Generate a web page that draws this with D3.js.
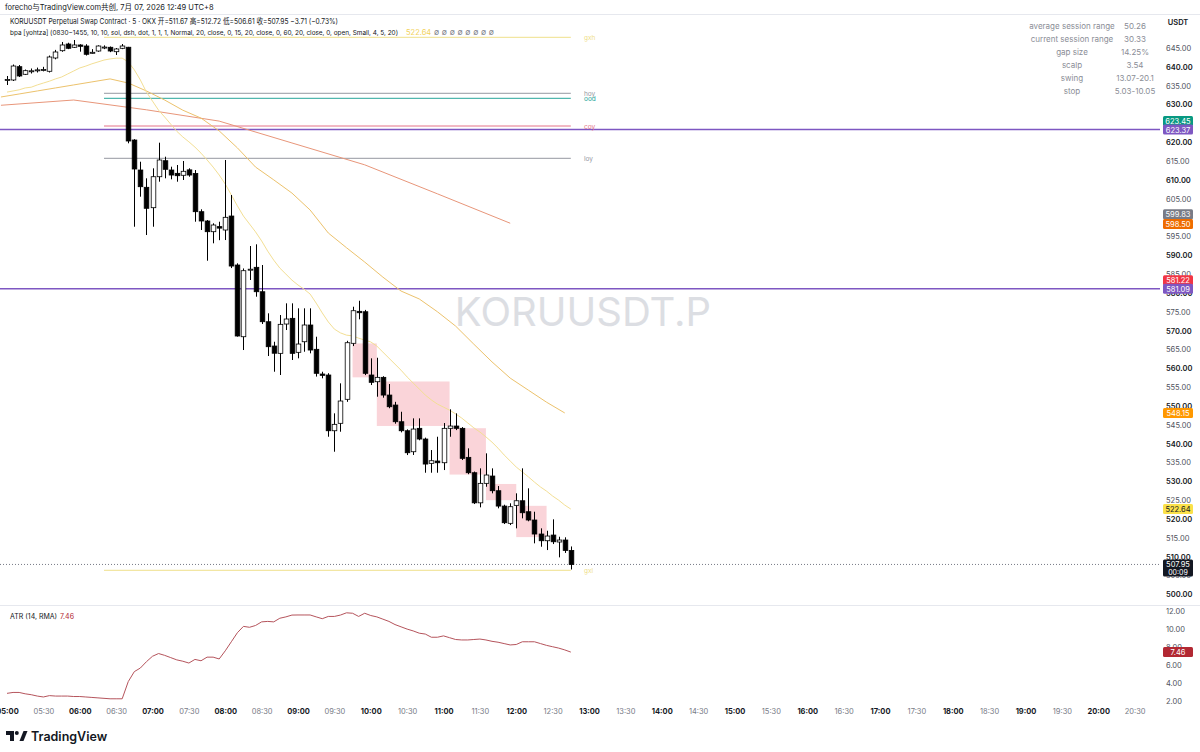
<!DOCTYPE html>
<html>
<head>
<meta charset="utf-8">
<script src="https://cdn.jsdelivr.net/npm/d3@7"></script>
<style>
  body { margin: 0; background: #fff; }
  svg text { font-family: "Inter", "Noto Sans CJK SC", sans-serif; }
</style>
</head>
<body>
<div id="chart"></div>
<script>
// ---- data (5 min bars from 05:00) ----
const openP = [636.38,636.51,640.04,638.02,638.85,639.10,639.20,638.82,642.35,644.28,
  646.06,645.19,645.80,645.53,643.59,644.20,645.15,645.19,644.02,644.92,
  645.20,620.58,612.62,608.03,602.62,610.84,615.09,612.62,611.74,611.22,
  612.66,611.70,601.56,599.09,596.25,597.60,596.70,600.41,587.41,568.38,
  586.10,586.80,580.32,572.36,565.91,563.97,571.75,573.26,564.24,567.05,
  571.49,565.04,558.48,558.22,543.43,545.40,551.77,566.63,575.12,575.01,
  558.22,556.44,557.60,552.90,550.25,545.82,543.43,537.86,544.07,541.23,
  534.78,535.39,534.94,544.07,544.68,544.07,536.37,532.29,524.30,529.47,
  531.41,527.51,523.44,518.86,523.63,524.85,521.94,519.74,516.02,514.24,
  515.75,513.90,514.43,511.67]
const highP = [637.57,640.62,640.49,639.29,639.56,639.80,640.00,643.00,644.50,646.60,
  646.40,647.12,646.00,646.00,644.70,645.70,645.70,645.40,645.00,646.06,
  645.30,620.80,614.82,610.42,613.07,619.87,616.15,613.50,613.95,615.01,
  613.07,612.62,602.20,599.35,598.48,598.90,615.28,605.99,587.86,586.50,
  592.45,592.90,587.41,574.59,567.05,574.14,577.24,577.24,575.92,575.92,
  575.92,568.38,559.09,558.70,548.05,556.01,567.30,576.34,577.93,575.50,
  562.65,562.80,557.90,555.83,551.10,548.47,543.80,546.72,546.72,541.60,
  538.31,541.84,545.48,549.11,548.05,544.40,538.76,532.60,533.45,537.43,
  533.45,528.76,523.80,524.17,526.82,533.45,528.15,521.94,517.53,516.89,
  519.92,515.30,515.15,512.72]
const lowP = [635.18,636.24,637.30,637.83,638.23,638.50,638.80,638.50,642.00,644.00,
  644.70,645.00,644.02,643.00,643.50,644.00,644.70,643.90,643.14,644.70,
  619.71,597.57,605.54,595.37,597.57,609.52,610.42,610.15,609.52,609.97,
  610.84,598.90,596.70,588.55,593.17,594.00,594.04,586.60,568.40,564.85,
  583.43,579.00,571.75,563.26,559.09,558.22,570.16,562.20,562.65,564.40,
  563.97,557.80,557.34,541.84,537.86,543.17,551.10,565.90,573.00,558.20,
  555.56,552.46,552.20,549.40,545.30,543.00,536.98,537.00,540.90,532.29,
  532.29,532.29,533.00,541.84,543.60,535.66,531.90,523.98,523.10,528.57,
  526.82,522.84,518.67,518.40,517.53,520.18,519.40,513.55,512.65,511.77,
  513.36,509.83,511.00,506.61]
const closeP = [636.64,640.22,637.57,638.98,638.95,639.20,639.30,642.61,643.94,645.80,
  644.92,645.80,645.45,643.33,643.86,645.53,645.25,644.20,644.74,645.53,
  620.32,612.89,608.19,602.46,610.84,615.28,612.81,611.29,611.11,612.28,
  611.29,601.56,599.09,596.25,598.03,597.20,600.07,587.14,568.57,585.90,
  586.30,580.32,572.36,565.73,564.00,571.67,573.08,563.97,566.44,571.49,
  564.85,558.67,558.13,543.43,545.13,551.32,566.79,575.28,574.75,558.67,
  556.28,557.60,552.90,549.80,545.82,543.43,537.59,543.88,541.23,534.59,
  535.47,534.94,544.07,544.68,544.07,536.11,532.29,524.30,529.47,531.68,
  527.51,523.44,519.02,523.27,524.85,521.67,519.74,516.02,514.24,515.49,
  513.97,514.43,511.67,507.95]

// 20 MA on 5m (one value per bar)
const maFast = [633.3,633.6,633.9,634.4,634.6,635.2,635.7,636.2,636.8,637.3,
  638.1,638.9,639.7,640.2,640.8,641.3,641.8,642.1,642.3,642.3,
  641.3,639.2,636.5,633.3,630.9,628.5,626.7,624.8,622.9,621.4,
  620.1,618.7,617.1,615.3,613.4,611.3,608.9,606.0,603.1,600.4,
  598.3,596.2,593.8,591.1,588.7,586.6,585.0,583.4,582.1,581.0,
  579.7,577.3,574.7,572.3,570.4,569.4,568.8,568.6,568.0,567.5,
  567.0,565.9,564.3,562.7,561.1,559.5,557.7,556.1,554.5,552.9,
  551.6,550.5,549.7,548.9,547.9,546.8,545.5,544.2,543.1,541.8,
  540.4,538.8,537.0,535.4,533.8,532.5,531.2,529.8,528.5,527.4,
  526.1,525.0,523.7,522.64]
// 20 MA on 15m (one value per 15 min, last bar of each block)
const maMid = [632.0,632.8,633.6,634.4,635.2,636.0,636.8,635.7,633.6,631.2,
  628.5,626.4,623.0,618.5,613.4,610.0,606.5,602.0,595.9,592.0,
  588.2,584.2,580.5,578.4,575.0,571.2,566.4,561.7,557.4,554.2,
  551.0,548.15]
// 20 MA on 60m (one value per hour)
const maSlow = [629.8,631.2,628.6,625.6,619.8,614.0,606.3,598.5]

const atr = [2.9,3.0,3.0,2.85,2.75,2.6,2.5,2.65,2.6,2.6,
  2.6,2.55,2.55,2.5,2.45,2.4,2.35,2.3,2.3,2.3,
  4.2,5.3,5.7,6.4,7.0,7.3,7.1,6.85,6.6,6.45,
  6.25,6.65,6.5,6.9,6.9,6.7,7.6,8.6,9.6,10.3,
  10.2,10.4,10.8,10.85,10.8,11.2,11.35,11.55,11.56,11.56,
  11.56,11.35,11.15,11.4,11.4,11.55,11.8,11.75,11.4,11.75,
  11.5,11.35,11.1,10.85,10.5,10.25,10.0,9.8,9.55,9.45,
  9.1,9.1,9.25,9.05,8.85,8.8,8.8,8.85,8.9,8.8,
  8.65,8.55,8.4,8.25,8.3,8.6,8.6,8.6,8.4,8.2,
  8.05,7.9,7.7,7.46]

// supply boxes (bar index start / end, price top / bottom)
const boxStart = [57, 61, 73, 79, 84]
const boxEnd = [61, 73, 79, 84, 89]
const boxTop = [566.6, 556.5, 544.1, 529.3, 523.5]
const boxBottom = [557.6, 544.7, 531.8, 525.0, 515.2]

// session levels
const levelNames = ["gxh", "hoy", "ood", "coy", "loy", "gxl"]
const levelPrices = [647.84, 632.98, 631.65, 624.3, 615.73, 506.4]
const levelColors = ["#efe08a", "#9598a1", "#26a69a", "#e57388", "#9598a1", "#efe08a"]
const levelFrom = "06:20", levelTo = "12:45"

const fullLines = [623.37, 581.09]

// price tags on the axis (value shown, price where the tag sits)
const axisLabelValues = ["623.45", "623.37", "599.83", "598.50", "581.22", "581.09", "548.15", "522.64"]
const axisLabelPrices = [625.6, 623.37, 600.9, 598.3, 583.4, 581.09, 548.15, 522.64]
const axisLabelColors = ["#089981", "#7e57c2", "#787b86", "#ef6c00", "#f23645", "#7e57c2", "#ff9800", "#fbe14a"]

const priceTicks = [500,505,510,515,520,525,530,535,540,545,550,555,560,565,570,575,580,585,
  590,595,600,605,610,615,620,625,630,635,640,645]
const atrTicks = [2, 4, 6, 8, 10, 12]
const timeLabels = ["05:00","05:30","06:00","06:30","07:00","07:30","08:00","08:30","09:00","09:30",
  "10:00","10:30","11:00","11:30","12:00","12:30","13:00","13:30","14:00","14:30","15:00","15:30",
  "16:00","16:30","17:00","17:30","18:00","18:30","19:00","19:30","20:00","20:30"]

const tableNames = ["average session range", "current session range", "gap size", "scalp", "swing", "stop"]
const tableValues = ["50.26", "30.33", "14.25%", "3.54", "13.07-20.1", "5.03-10.05"]

// ---- setup ----
const W = 1200, H = 752
const svg = d3.select("#chart").append("svg").attr("width", W).attr("height", H)

const parseT = d3.timeParse("%Y-%m-%d %H:%M")
const day = "2026-07-07 "
const t0 = parseT(day + "05:00")
const barTime = i => new Date(t0.getTime() + i * 300000)

const x = d3.scaleTime().domain([parseT(day + "05:00"), parseT(day + "13:00")]).range([7, 589])
const y = d3.scaleLinear().domain([500, 645]).range([594.4, 48])
const yA = d3.scaleLinear().domain([2, 12]).range([701.5, 611])

const plotRight = 1160

svg.append("defs").append("clipPath").attr("id", "clipMain")
  .append("rect").attr("x", 0).attr("y", 15).attr("width", plotRight).attr("height", 589)

// header
svg.append("text").attr("x", 5).attr("y", 10).attr("font-size", 7.5).attr("fill", "#131722")
  .text("forecho与TradingView.com共创, 7月 07, 2026 12:49 UTC+8")
svg.append("line").attr("x1", 0).attr("x2", W).attr("y1", 14.5).attr("y2", 14.5)
  .attr("stroke", "#e6e8ee")

// pane separator
svg.append("line").attr("x1", 0).attr("x2", W).attr("y1", 605.5).attr("y2", 605.5).attr("stroke", "#e6e8ee")

// watermark
svg.append("text").attr("x", 583).attr("y", 326).attr("text-anchor", "middle")
  .attr("font-size", 40).attr("fill", "#dcdee3").text("KORUUSDT.P")

const main = svg.append("g").attr("clip-path", "url(#clipMain)")

// boxes
main.selectAll("rect.box").data(boxStart).enter().append("rect")
  .attr("class", "box")
  .attr("x", d => x(barTime(d)))
  .attr("width", (d, i) => x(barTime(boxEnd[i])) - x(barTime(d)))
  .attr("y", (d, i) => y(boxTop[i]))
  .attr("height", (d, i) => y(boxBottom[i]) - y(boxTop[i]))
  .attr("fill", "rgba(236,100,120,0.28)")

// full width levels
fullLines.forEach(p => {
  main.append("line").attr("x1", 0).attr("x2", plotRight).attr("y1", y(p)).attr("y2", y(p))
    .attr("stroke", "#7e57c2").attr("stroke-width", 1.5)
})

// session levels
const lvFrom = x(parseT(day + levelFrom)), lvTo = x(parseT(day + levelTo))
levelPrices.forEach((p, i) => {
  main.append("line").attr("x1", lvFrom).attr("x2", lvTo).attr("y1", y(p)).attr("y2", y(p))
    .attr("stroke", levelColors[i]).attr("stroke-width", 1)
  main.append("text").attr("x", 584).attr("y", y(p) + 2.5).attr("font-size", 6.5)
    .attr("fill", levelColors[i]).text(levelNames[i])
})

// current price dotted line
main.append("line").attr("x1", 0).attr("x2", plotRight)
  .attr("y1", y(507.95)).attr("y2", y(507.95))
  .attr("stroke", "#787b86").attr("stroke-dasharray", "1,2")

// moving averages
const slowIdx = d3.range(-1, 84, 12)
const midIdx = d3.range(-1, 93, 3)
const ln = d3.line().x(d => x(barTime(d[0]))).y(d => y(d[1]))
main.append("path").attr("d", ln(slowIdx.map((b, i) => [b, maSlow[i]])))
  .attr("fill", "none").attr("stroke", "#e8967a").attr("stroke-width", 1)
main.append("path").attr("d", ln(midIdx.map((b, i) => [b, maMid[i]])))
  .attr("fill", "none").attr("stroke", "#ecc26c").attr("stroke-width", 1)
main.append("path").attr("d", ln(maFast.map((v, i) => [i, v])))
  .attr("fill", "none").attr("stroke", "#f3df94").attr("stroke-width", 1)

// candles
const bars = d3.range(openP.length)
const bodyW = 4.6
const candle = main.selectAll("g.candle").data(bars).enter().append("g").attr("class", "candle")
candle.append("line")
  .attr("x1", i => Math.round(x(barTime(i))) + 0.5)
  .attr("x2", i => Math.round(x(barTime(i))) + 0.5)
  .attr("y1", i => y(highP[i])).attr("y2", i => y(lowP[i]))
  .attr("stroke", "#000").attr("stroke-width", 1)
candle.append("rect")
  .attr("x", i => Math.round(x(barTime(i))) + 0.5 - bodyW / 2)
  .attr("width", bodyW)
  .attr("y", i => y(Math.max(openP[i], closeP[i])))
  .attr("height", i => Math.max(1, Math.abs(y(openP[i]) - y(closeP[i]))))
  .attr("fill", i => closeP[i] >= openP[i] ? "#fff" : "#000")
  .attr("stroke", "#000").attr("stroke-width", 0.8)

// price axis
const yAxis = d3.axisRight(y).tickValues(priceTicks).tickFormat(d3.format(".2f"))
  .tickSize(0).tickPadding(0)
const gy = svg.append("g").attr("transform", "translate(1166,0)").call(yAxis)
gy.select(".domain").remove()
gy.selectAll("text").attr("font-size", 7.5)
  .attr("font-weight", d => d % 10 === 0 ? 600 : 400)
  .attr("fill", d => d % 10 === 0 ? "#131722" : "#50535e")

svg.append("text").attr("x", 1178).attr("y", 25).attr("text-anchor", "middle")
  .attr("font-size", 7.5).attr("font-weight", 600).attr("fill", "#131722").text("USDT")

// colored axis tags
function axisTag(val, price, color, txtColor) {
  const g = svg.append("g")
  g.append("rect").attr("x", 1163).attr("y", y(price) - 5).attr("width", 30).attr("height", 10)
    .attr("rx", 1.5).attr("fill", color)
  g.append("text").attr("x", 1178).attr("y", y(price) + 3).attr("text-anchor", "middle")
    .attr("font-size", 7.5).attr("fill", txtColor).text(val)
}
axisLabelValues.forEach((v, i) => {
  axisTag(v, axisLabelPrices[i], axisLabelColors[i], axisLabelColors[i] === "#fbe14a" ? "#131722" : "#fff")
})
// last price with countdown
svg.append("rect").attr("x", 1163).attr("y", y(507.95) - 5).attr("width", 30).attr("height", 17)
  .attr("rx", 1.5).attr("fill", "#131722")
svg.append("text").attr("x", 1178).attr("y", y(507.95) + 3).attr("text-anchor", "middle")
  .attr("font-size", 7.5).attr("fill", "#fff").text("507.95")
svg.append("text").attr("x", 1178).attr("y", y(507.95) + 10.5).attr("text-anchor", "middle")
  .attr("font-size", 7).attr("fill", "#fff").text("00:09")

// legend lines
svg.append("text").attr("x", 10).attr("y", 24).attr("font-size", 7.5).attr("fill", "#131722")
  .attr("textLength", 328).attr("lengthAdjust", "spacingAndGlyphs")
  .text("KORUUSDT Perpetual Swap Contract · 5 · OKX  开=511.67  高=512.72  低=506.61  收=507.95  −3.71 (−0.73%)")
svg.append("text").attr("x", 10).attr("y", 35).attr("font-size", 6.8).attr("fill", "#131722")
  .attr("textLength", 388).attr("lengthAdjust", "spacingAndGlyphs")
  .text("bpa [yohtza] (0830−1455, 10, 10, sol, dsh, dot, 1, 1, 1, Normal, 20, close, 0, 15, 20, close, 0, 60, 20, close, 0, open, Small, 4, 5, 20)")
svg.append("text").attr("x", 406).attr("y", 35).attr("font-size", 7.5).attr("fill", "#f2d25c").text("522.64")
svg.append("text").attr("x", 434).attr("y", 35).attr("font-size", 7.5).attr("fill", "#787b86")
  .attr("textLength", 60).text("∅ ∅ ∅ ∅ ∅ ∅ ∅ ∅")

// stats table
tableNames.forEach((n, i) => {
  svg.append("text").attr("x", 1072).attr("y", 29 + i * 13).attr("text-anchor", "middle")
    .attr("font-size", 8).attr("fill", "#8a8d96").text(n)
  svg.append("text").attr("x", 1135).attr("y", 29 + i * 13).attr("text-anchor", "middle")
    .attr("font-size", 8).attr("fill", "#8a8d96").text(tableValues[i])
})

// ---- ATR pane ----
svg.append("path").attr("d", d3.line().x((d, i) => x(barTime(i))).y(d => yA(d))(atr))
  .attr("fill", "none").attr("stroke", "#b5545c").attr("stroke-width", 1)
svg.append("text").attr("x", 10).attr("y", 619).attr("font-size", 7).attr("fill", "#131722")
  .text("ATR (14, RMA)")
svg.append("text").attr("x", 60).attr("y", 619).attr("font-size", 7).attr("fill", "#b22833").text("7.46")

const aAxis = d3.axisRight(yA).tickValues(atrTicks).tickFormat(d3.format(".2f")).tickSize(0).tickPadding(0)
const ga = svg.append("g").attr("transform", "translate(1166,0)").call(aAxis)
ga.select(".domain").remove()
ga.selectAll("text").attr("font-size", 7.5).attr("fill", "#50535e")
svg.append("rect").attr("x", 1163).attr("y", yA(7.46) - 5).attr("width", 30).attr("height", 10)
  .attr("rx", 1.5).attr("fill", "#b22833")
svg.append("text").attr("x", 1178).attr("y", yA(7.46) + 3).attr("text-anchor", "middle")
  .attr("font-size", 7.5).attr("fill", "#fff").text("7.46")

// time axis
const timeTicks = timeLabels.map(s => parseT(day + s))
const xAxis = d3.axisBottom(x).tickValues(timeTicks).tickFormat(d3.timeFormat("%H:%M"))
  .tickSize(0).tickPadding(0)
const gx = svg.append("g").attr("transform", "translate(0,709)").call(xAxis)
gx.select(".domain").remove()
gx.selectAll("text").attr("font-size", 7.5)
  .attr("font-weight", d => d.getMinutes() === 0 ? 700 : 400)
  .attr("fill", d => d.getMinutes() === 0 ? "#131722" : "#787b86")

// TradingView logo
const logo = svg.append("g").attr("fill", "#131722")
logo.append("path").attr("d", "M6,731 h8 v10 h-4 v-6 h-4 z")
logo.append("circle").attr("cx", 16.8).attr("cy", 733).attr("r", 2)
logo.append("path").attr("d", "M19.5,741 l4,-10 h4 l-4,10 z")
svg.append("text").attr("x", 31).attr("y", 741).attr("font-size", 12.5).attr("font-weight", 600)
  .attr("fill", "#131722").text("TradingView")
</script>
</body>
</html>
